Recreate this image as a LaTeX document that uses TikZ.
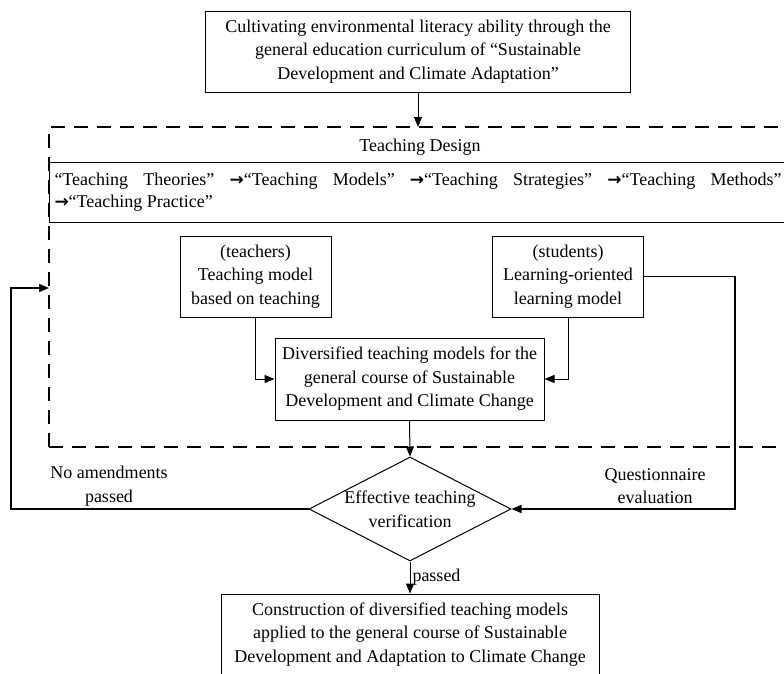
\documentclass[tikz,border=0pt]{standalone}
\usepackage{fontspec}
\setmainfont{Liberation Serif}
\newfontfamily\arrowfont{DejaVu Sans}
\usetikzlibrary{arrows.meta,positioning,shapes.geometric,calc}
\tikzset{
  font={\fontsize{18pt}{23.5pt}\selectfont}}
\newcommand{\chainarrow}{{\arrowfont\bfseries\fontsize{17pt}{22pt}\selectfont →}}

\begin{document}
\begin{tikzpicture}[x=1pt,y=-1pt,
    block_top/.style ={rectangle, draw=black, line width=1pt, fill=white,
      align=center, minimum width=425pt, minimum height=81pt, inner sep=2pt},
    block_small/.style ={rectangle, draw=black, line width=1pt, fill=white,
      align=center, minimum width=151pt, minimum height=81pt, inner sep=2pt},
    block_mid/.style ={rectangle, draw=black, line width=1pt, fill=white,
      align=center, minimum width=269pt, minimum height=82pt, inner sep=2pt},
    block_final/.style ={rectangle, draw=black, line width=1pt, fill=white,
      align=center, minimum width=378pt, minimum height=81pt, inner sep=2pt},
    block_row/.style ={rectangle, draw=black, line width=1pt, fill=white,
      text width=727pt, align=justify, minimum height=60pt, inner sep=5pt,
      font={\fontsize{18pt}{22pt}\selectfont}},
    block_clear/.style ={rectangle, draw=none, align=center, inner sep=1pt},
    decision/.style={diamond, draw=black, line width=1pt, fill=white,
      minimum width=202pt, minimum height=104pt, inner sep=0pt},
    frame/.style ={draw=black, line width=1.6pt, dash pattern=on 14pt off 9pt},
    paths2/.style={black, draw, line width=1pt,
      arrows={-Triangle[length=10pt, width=8pt]}},
    loop/.style={black, draw, line width=1.6pt,
      arrows={-Triangle[length=10pt, width=8pt]}}]
    \useasboundingbox (0,0) rectangle (784,673);
    \clip (0,0) rectangle (784,673);
    % goal on top
    \node[block_top] (goal) at (418,51.5) {Cultivating environmental literacy ability through the\\
      general education curriculum of “Sustainable\\ Development and Climate Adaptation”};
    % dashed teaching design frame (runs off the right edge)
    \coordinate (frametl) at (49,127);
    \coordinate (framebl) at (49,447);
    \draw[frame] (framebl) -- (frametl) -- (800,127);
    \draw[frame] (framebl) -- (800,447);
    \node[block_clear] (design) at (420,147) {Teaching Design};
    \node[block_row, anchor=west] (chain) at (49,192)
      {“Teaching Theories” \chainarrow“Teaching Models” \chainarrow“Teaching Strategies” \chainarrow“Teaching Methods”\linebreak
       \chainarrow“Teaching Practice”};
    % the two models
    \node[block_small] (teachers) at (255.5,276.5) {(teachers)\\ Teaching model\\ based on teaching};
    \node[block_small] (students) at (568,276.5) {(students)\\ Learning-oriented\\ learning model};
    \node[block_mid] (diverse) at (409.5,379) {Diversified teaching models for the\\
      general course of Sustainable\\ Development and Climate Change};
    % verification
    \node[decision] (verify) at (410,509) {};
    \node[block_clear] (verifytext) at (verify.center) {Effective teaching\\ verification};
    \node[block_final] (final) at (410,634.5) {Construction of diversified teaching models\\
      applied to the general course of Sustainable\\ Development and Adaptation to Climate Change};
    % side labels
    \node[block_clear] (noamend) at (109,486) {No amendments\\ passed};
    \node[block_clear] (questio) at (655,486) {Questionnaire\\ evaluation};
    \coordinate (qcorner) at (735,509);
    \coordinate (loopcorner) at (11,288);
    \coordinate (loopin) at (49,288);
    % connecting nodes with paths
    \begin{scope}[every path/.style=paths2]
      \path (goal.south) -- (goal.south |- frametl);
      \path (teachers.south) |- (diverse.west);
      \path (students.south) |- (diverse.east);
      \path (diverse.south) -- (verify.north);
      \path (verify.south) -- node[right, inner sep=2pt] (passed) {passed} (final.north);
    \end{scope}
    \begin{scope}[every path/.style=loop]
      \path (students.east) -| (qcorner) -- (verify.east);
      \path (verify.west) -| (loopcorner) -- (loopin);
    \end{scope}
\end{tikzpicture}
\end{document}
